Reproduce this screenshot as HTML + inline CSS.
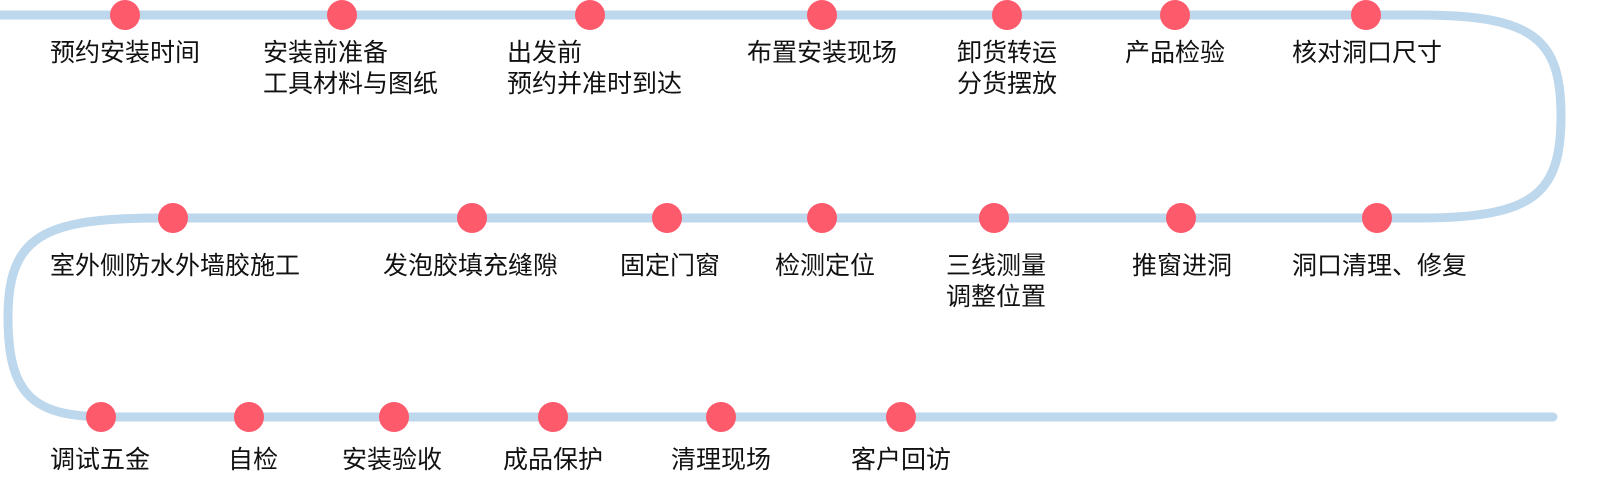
<!DOCTYPE html>
<html><head><meta charset="utf-8"><style>
html,body{margin:0;padding:0;background:#fff;}
#c{position:relative;width:1617px;height:488px;overflow:hidden;font-family:"Liberation Sans","Noto Sans CJK SC",sans-serif;font-size:25px;color:#111;}
.t{position:absolute;line-height:31px;white-space:nowrap;}
</style></head><body><div id="c">
<svg width="1617" height="488" style="position:absolute;left:0;top:0">
<path d="M0,15 H1420 C1535,15 1561,40 1561,116 C1561,193 1535,218 1420,218 H160 C45,218 8,235 8,317 C8,398 35,417 110,417 H1553" fill="none" stroke="#bdd7ec" stroke-width="9" stroke-linecap="round"/>
<g fill="#fd5a6c">
<circle cx="125" cy="15" r="15"/><circle cx="342" cy="15" r="15"/><circle cx="590" cy="15" r="15"/><circle cx="822" cy="15" r="15"/><circle cx="1007" cy="15" r="15"/><circle cx="1175" cy="15" r="15"/><circle cx="1366" cy="15" r="15"/>
<circle cx="173" cy="218" r="15"/><circle cx="472" cy="218" r="15"/><circle cx="667" cy="218" r="15"/><circle cx="822" cy="218" r="15"/><circle cx="994" cy="218" r="15"/><circle cx="1181" cy="218" r="15"/><circle cx="1377" cy="218" r="15"/>
<circle cx="101" cy="417" r="15"/><circle cx="249" cy="417" r="15"/><circle cx="394" cy="417" r="15"/><circle cx="553" cy="417" r="15"/><circle cx="721" cy="417" r="15"/><circle cx="901" cy="417" r="15"/>
</g></svg>
<div class="t" style="left:50px;top:38px">预约安装时间</div>
<div class="t" style="left:263px;top:38px">安装前准备<br>工具材料与图纸</div>
<div class="t" style="left:507px;top:38px">出发前<br>预约并准时到达</div>
<div class="t" style="left:747px;top:38px">布置安装现场</div>
<div class="t" style="left:957px;top:38px">卸货转运<br>分货摆放</div>
<div class="t" style="left:1125px;top:38px">产品检验</div>
<div class="t" style="left:1292px;top:38px">核对洞口尺寸</div>
<div class="t" style="left:50px;top:251px">室外侧防水外墙胶施工</div>
<div class="t" style="left:383px;top:251px">发泡胶填充缝隙</div>
<div class="t" style="left:620px;top:251px">固定门窗</div>
<div class="t" style="left:775px;top:251px">检测定位</div>
<div class="t" style="left:946px;top:251px">三线测量<br>调整位置</div>
<div class="t" style="left:1132px;top:251px">推窗进洞</div>
<div class="t" style="left:1292px;top:251px">洞口清理、修复</div>
<div class="t" style="left:50px;top:445px">调试五金</div>
<div class="t" style="left:228px;top:445px">自检</div>
<div class="t" style="left:342px;top:445px">安装验收</div>
<div class="t" style="left:503px;top:445px">成品保护</div>
<div class="t" style="left:671px;top:445px">清理现场</div>
<div class="t" style="left:851px;top:445px">客户回访</div>
</div></body></html>
